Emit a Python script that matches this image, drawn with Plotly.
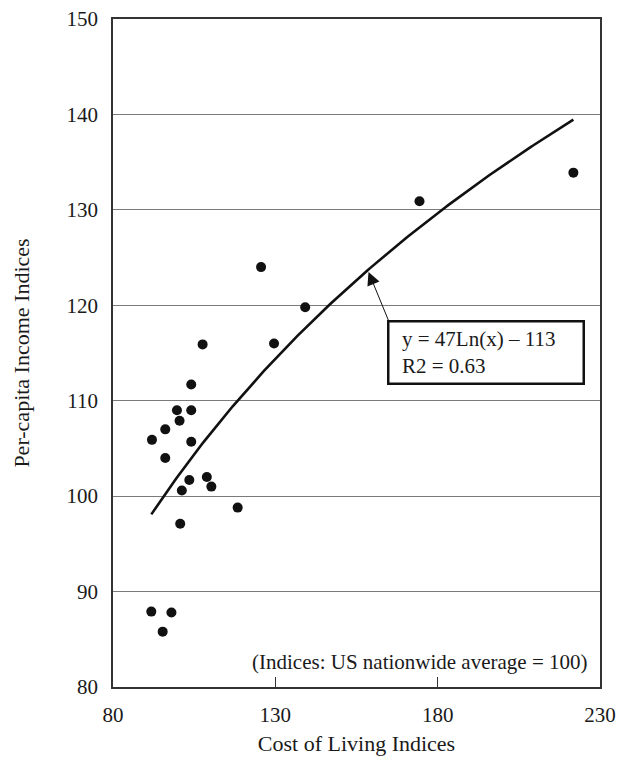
import numpy as np
import plotly.graph_objects as go

# Data
COST_OF_LIVING = [107.6, 129.6, 104.1, 99.7, 104.1, 100.5, 96.1, 92.0, 104.1, 96.1, 103.5,
                  108.9, 110.3, 101.2, 118.4, 100.7, 91.8, 98.0, 95.3, 125.6, 139.2, 174.4, 221.8]
INCOME = [115.9, 116.0, 111.7, 109.0, 109.0, 107.9, 107.0, 105.9, 105.7, 104.0, 101.7,
          102.0, 101.0, 100.6, 98.8, 97.1, 87.9, 87.8, 85.8, 124.0, 119.8, 130.9, 133.9]
X_TICKS = [80, 130, 180, 230]
Y_TICKS = [80, 90, 100, 110, 120, 130, 140, 150]
EQUATION = "y = 47Ln(x) – 113"
R2_TEXT = "R2 = 0.63"
NOTE = "(Indices: US nationwide average = 100)"

FONT = "Liberation Serif"
TXT = "#1a1a1a"

# Logarithmic trendline fitted from the data
xs = np.array(COST_OF_LIVING)
ys = np.array(INCOME)
a, b = np.polyfit(np.log(xs), ys, 1)
xt = np.linspace(xs.min(), xs.max(), 200)
yt = a * np.log(xt) + b

fig = go.Figure()
fig.add_trace(go.Scatter(x=xt, y=yt, mode="lines",
                         line=dict(color="#111111", width=2.6), hoverinfo="skip"))
fig.add_trace(go.Scatter(x=COST_OF_LIVING, y=INCOME, mode="markers",
                         marker=dict(color="#111111", size=10)))

# Arrow pointing to the curve
fig.add_annotation(x=158.7, y=123.5, ax=165.1, ay=118.2, xref="x", yref="y",
                   axref="x", ayref="y", text="", showarrow=True,
                   arrowhead=2, arrowsize=2.6, arrowwidth=1, arrowcolor="#111111")
# Equation box
fig.add_annotation(x=164.3, y=118.47, xref="x", yref="y", xanchor="left", yanchor="top",
                   text="&nbsp;&nbsp;" + EQUATION + "<br>&nbsp;&nbsp;" + R2_TEXT,
                   showarrow=False, align="left", width=189, height=56,
                   bordercolor="#111111", borderwidth=2.5, borderpad=2, bgcolor="white",
                   font=dict(family=FONT, size=21, color=TXT))
# Note
fig.add_annotation(x=0.979, y=0.0371, xref="paper", yref="paper", xanchor="right",
                   yanchor="middle", text=NOTE, showarrow=False,
                   font=dict(family=FONT, size=21, color=TXT))

fig.update_layout(
    width=620, height=765,
    margin=dict(l=113, r=20, t=19, b=78),
    paper_bgcolor="white", plot_bgcolor="white",
    showlegend=False,
    font=dict(family=FONT, size=21, color=TXT),
    xaxis=dict(range=[80, 230], tickvals=X_TICKS, ticktext=[str(v) for v in X_TICKS],
               showgrid=False, zeroline=False, showline=True, mirror=True,
               linecolor="#333333", linewidth=1.5, ticks="inside", ticklen=10,
               tickcolor="#333333", tickwidth=1, ticklabelstandoff=8,
               ticklabeloverflow="allow",
               tickfont=dict(family=FONT, size=21, color=TXT),
               title=dict(text="Cost of Living Indices", standoff=10,
                          font=dict(family=FONT, size=22, color=TXT)),
               automargin=False),
    yaxis=dict(range=[80, 150], tickvals=Y_TICKS, ticktext=[str(v) for v in Y_TICKS],
               showgrid=True, gridcolor="#7a7a7a", gridwidth=1.3, zeroline=False,
               showline=True, mirror=True, linecolor="#333333", linewidth=1.5,
               ticks="", ticklabelstandoff=9, ticklabeloverflow="allow",
               tickfont=dict(family=FONT, size=21, color=TXT),
               title=dict(text="Per-capita Income Indices", standoff=31,
                          font=dict(family=FONT, size=22, color=TXT)),
               automargin=False),
)

fig.write_html("out.html", config={"displayModeBar": False},
               post_script="document.body.style.margin='0';")
